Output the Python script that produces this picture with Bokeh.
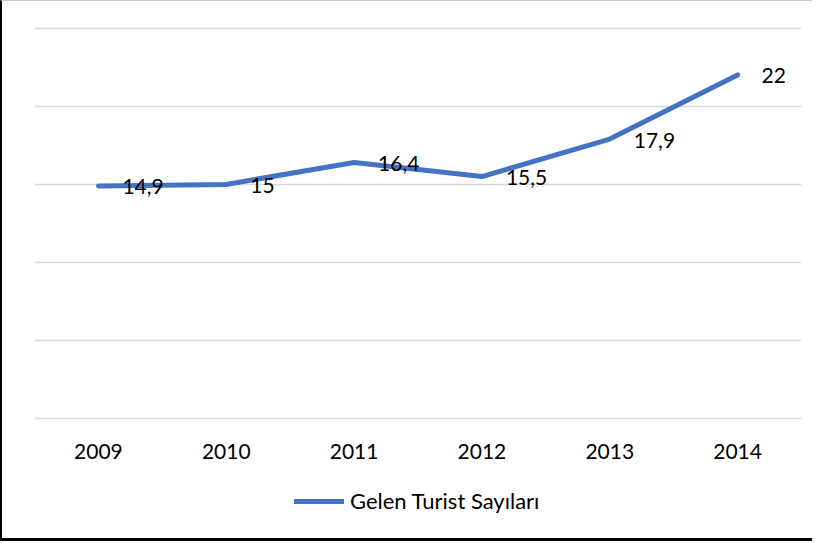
from bokeh.plotting import figure
from bokeh.layouts import column
from bokeh.models import FactorRange, Range1d, FixedTicker, Legend, LegendItem, ColumnDataSource
from bokeh.core.properties import value
from bokeh.embed import file_html
from bokeh.resources import INLINE

years = ["2009", "2010", "2011", "2012", "2013", "2014"]
tourists = [14.9, 15.0, 16.4, 15.5, 17.9, 22.0]
value_labels = ["14,9", "15", "16,4", "15,5", "17,9", "22"]
series_name = "Gelen Turist Sayıları"
y_ticks = [0, 5, 10, 15, 20, 25]

FONT = "Lato"
LINE_COLOR = "#4472C4"
W = 810
H_MAIN = 470
H_LEG = 67

src = ColumnDataSource(dict(x=years, y=tourists, lab=value_labels))

p = figure(
    width=W, height=H_MAIN,
    x_range=FactorRange(factors=years, range_padding=0),
    y_range=Range1d(-0.1, 25.1),
    output_backend="svg", toolbar_location=None,
    min_border_left=32, min_border_right=11, min_border_top=25, min_border_bottom=51,
)
p.outline_line_color = None
p.background_fill_color = "white"
p.border_fill_color = "white"

p.yaxis.visible = False
p.yaxis.ticker = FixedTicker(ticks=y_ticks)
p.ygrid.ticker = FixedTicker(ticks=y_ticks)
p.ygrid.grid_line_color = "#D9D9D9"
p.ygrid.grid_line_width = 1.5
p.xgrid.visible = False

xa = p.xaxis[0]
xa.axis_line_color = None
xa.major_tick_line_color = None
xa.minor_tick_line_color = None
xa.major_tick_out = 0
xa.major_tick_in = 0
xa.major_label_standoff = 23
xa.major_label_text_font = FONT
xa.major_label_text_font_size = "21px"
xa.major_label_text_color = "#000000"

p.line("x", "y", source=src, line_color=LINE_COLOR, line_width=5,
       line_cap="round", line_join="round")

p.text("x", "y", text="lab", source=src, x_offset=24, y_offset=1,
       text_baseline="middle", text_align="left",
       text_font=value(FONT), text_font_size="21px", text_color="#000000")

# legend strip below the chart (series drawn out of view; only its key shows)
lp = figure(width=W, height=H_LEG, x_range=p.x_range, y_range=Range1d(40, 41),
            output_backend="svg", toolbar_location=None,
            min_border_left=0, min_border_right=0, min_border_top=0, min_border_bottom=0)
lp.axis.visible = False
lp.grid.visible = False
lp.outline_line_color = None
lp.background_fill_color = "white"
lp.border_fill_color = "white"
key = lp.line("x", "y", source=src, line_color=LINE_COLOR, line_width=5, line_cap="round")

legend = Legend(items=[LegendItem(label=series_name, renderers=[key])],
                location=(260, 24), orientation="horizontal",
                glyph_width=50, glyph_height=24, label_height=24,
                label_standoff=6, padding=0, margin=0,
                label_text_font=FONT, label_text_font_size="22px",
                label_text_color="#000000",
                border_line_color=None, background_fill_alpha=0)
lp.add_layout(legend)

layout = column(p, lp, spacing=0)
layout.styles = {"border-left": "2px solid #000000",
                 "border-top": "1px solid #c8c8c8",
                 "border-bottom": "3px solid #000000"}
open("out.html", "w").write(file_html(layout, INLINE))
